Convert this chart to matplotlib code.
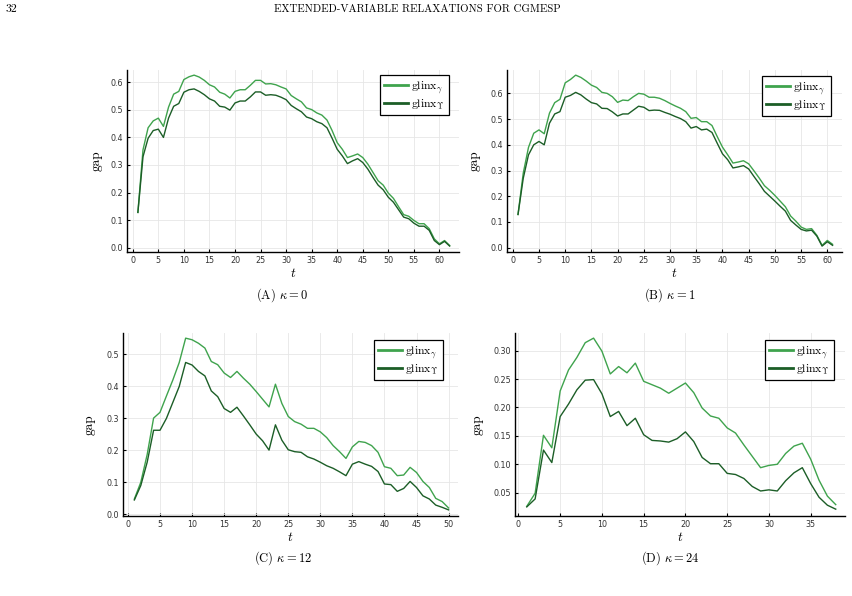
import matplotlib
matplotlib.use('Agg')
import matplotlib.pyplot as plt
from matplotlib.ticker import MultipleLocator, FormatStrFormatter
from matplotlib.lines import Line2D

plt.rcParams['mathtext.fontset'] = 'cm'
plt.rcParams['axes.unicode_minus'] = False

# ---------------- data ----------------
t_a = list(range(1, 63))
glinx_gamma_a = [0.128, 0.355, 0.435, 0.46, 0.47, 0.44, 0.51, 0.557, 0.567, 0.61,
                 0.62, 0.626, 0.619, 0.607, 0.591, 0.583, 0.564, 0.557, 0.543, 0.567,
                 0.573, 0.573, 0.589, 0.607, 0.607, 0.594, 0.595, 0.591, 0.583, 0.576,
                 0.552, 0.54, 0.529, 0.507, 0.501, 0.489, 0.481, 0.463, 0.425, 0.381,
                 0.357, 0.327, 0.333, 0.34, 0.327, 0.303, 0.273, 0.243, 0.227, 0.198,
                 0.179, 0.149, 0.12, 0.114, 0.099, 0.087, 0.087, 0.069, 0.032, 0.014,
                 0.026, 0.008]
glinx_upsilon_a = [0.128, 0.33, 0.397, 0.425, 0.43, 0.40, 0.47, 0.513, 0.523, 0.564,
                   0.573, 0.576, 0.567, 0.555, 0.54, 0.532, 0.513, 0.51, 0.499, 0.525,
                   0.532, 0.532, 0.547, 0.565, 0.565, 0.553, 0.555, 0.553, 0.546, 0.537,
                   0.516, 0.504, 0.493, 0.474, 0.468, 0.457, 0.45, 0.435, 0.397, 0.357,
                   0.333, 0.305, 0.315, 0.323, 0.309, 0.285, 0.255, 0.227, 0.21, 0.183,
                   0.165, 0.138, 0.111, 0.105, 0.089, 0.078, 0.078, 0.063, 0.026, 0.011,
                   0.023, 0.006]

t_b = list(range(1, 62))
glinx_gamma_b = [0.129, 0.29, 0.39, 0.445, 0.458, 0.443, 0.523, 0.564, 0.577, 0.641,
                 0.654, 0.671, 0.662, 0.648, 0.632, 0.623, 0.604, 0.60, 0.587, 0.565,
                 0.574, 0.572, 0.587, 0.60, 0.597, 0.585, 0.585, 0.581, 0.572, 0.561,
                 0.551, 0.542, 0.529, 0.503, 0.506, 0.49, 0.49, 0.475, 0.432, 0.391,
                 0.361, 0.329, 0.333, 0.338, 0.326, 0.299, 0.271, 0.241, 0.223, 0.203,
                 0.181, 0.159, 0.123, 0.103, 0.08, 0.071, 0.074, 0.048, 0.009, 0.028,
                 0.013]
glinx_upsilon_b = [0.129, 0.27, 0.361, 0.40, 0.413, 0.40, 0.484, 0.52, 0.529, 0.585,
                   0.592, 0.604, 0.594, 0.578, 0.564, 0.559, 0.542, 0.541, 0.528, 0.512,
                   0.52, 0.52, 0.535, 0.55, 0.546, 0.533, 0.535, 0.534, 0.526, 0.519,
                   0.51, 0.502, 0.49, 0.465, 0.471, 0.458, 0.461, 0.448, 0.406, 0.365,
                   0.342, 0.31, 0.314, 0.319, 0.306, 0.277, 0.249, 0.219, 0.2, 0.181,
                   0.161, 0.142, 0.106, 0.088, 0.071, 0.065, 0.068, 0.045, 0.006, 0.023,
                   0.009]

t_c = list(range(1, 51))
glinx_gamma_c = [0.048, 0.10, 0.187, 0.301, 0.319, 0.37, 0.42, 0.475, 0.551, 0.546,
                 0.535, 0.52, 0.478, 0.468, 0.442, 0.428, 0.447, 0.426, 0.407, 0.384,
                 0.36, 0.336, 0.407, 0.347, 0.306, 0.29, 0.282, 0.269, 0.269, 0.258,
                 0.24, 0.215, 0.196, 0.175, 0.211, 0.228, 0.225, 0.215, 0.194, 0.149,
                 0.144, 0.121, 0.123, 0.147, 0.131, 0.103, 0.084, 0.05, 0.04, 0.02]
glinx_upsilon_c = [0.045, 0.09, 0.163, 0.263, 0.263, 0.30, 0.35, 0.40, 0.475, 0.467,
                   0.447, 0.433, 0.386, 0.368, 0.331, 0.319, 0.335, 0.308, 0.28, 0.251,
                   0.23, 0.201, 0.28, 0.232, 0.202, 0.196, 0.194, 0.18, 0.173, 0.163,
                   0.152, 0.144, 0.133, 0.121, 0.157, 0.165, 0.157, 0.15, 0.134, 0.095,
                   0.093, 0.072, 0.081, 0.103, 0.084, 0.058, 0.048, 0.029, 0.022, 0.014]

t_d = list(range(1, 39))
glinx_gamma_d = [0.026, 0.049, 0.151, 0.129, 0.229, 0.266, 0.288, 0.314, 0.322, 0.299,
                 0.259, 0.272, 0.261, 0.278, 0.246, 0.24, 0.234, 0.225, 0.234, 0.243,
                 0.226, 0.199, 0.185, 0.181, 0.164, 0.155, 0.134, 0.114, 0.094, 0.098,
                 0.10, 0.119, 0.132, 0.137, 0.109, 0.072, 0.044, 0.029]
glinx_upsilon_d = [0.025, 0.039, 0.125, 0.103, 0.184, 0.206, 0.231, 0.248, 0.249, 0.224,
                   0.184, 0.193, 0.168, 0.181, 0.152, 0.142, 0.141, 0.139, 0.145, 0.157,
                   0.14, 0.112, 0.101, 0.101, 0.084, 0.082, 0.075, 0.061, 0.053, 0.055,
                   0.053, 0.071, 0.085, 0.094, 0.066, 0.042, 0.028, 0.021]

labels = [r'glinx$_\gamma$', r'glinx$_\Upsilon$']
captions = [r'(A) $\kappa = 0$', r'(B) $\kappa = 1$', r'(C) $\kappa = 12$', r'(D) $\kappa = 24$']
header_page = '32'
header_title = 'EXTENDED-VARIABLE RELAXATIONS FOR CGMESP'

# ---------------- layout ----------------
W, H = 852, 596
fig = plt.figure(figsize=(W / 100, H / 100), dpi=100)
SERIF = 'cmr10'
LIGHT = '#3fa34d'
DARK = '#1c5e27'


def fx(x):
    return x / W


def fy(y):
    return 1 - y / H


panels = [
    dict(t=t_a, g=glinx_gamma_a, u=glinx_upsilon_a, box=(127, 459, 70, 252),
         ystep=0.1, yfmt='%.1f', leg=(449, 75), ylab_x=103, cap=(282, 295)),
    dict(t=t_b, g=glinx_gamma_b, u=glinx_upsilon_b, box=(507, 842, 70, 252),
         ystep=0.1, yfmt='%.1f', leg=(831, 76), ylab_x=481, cap=(670, 295)),
    dict(t=t_c, g=glinx_gamma_c, u=glinx_upsilon_c, box=(123, 458, 333, 516),
         ystep=0.1, yfmt='%.1f', leg=(443, 340), ylab_x=96, cap=(283, 558)),
    dict(t=t_d, g=glinx_gamma_d, u=glinx_upsilon_d, box=(515, 845, 333, 516),
         ystep=0.05, yfmt='%.2f', leg=(834, 340), ylab_x=484, cap=(670, 558)),
]

for i, p in enumerate(panels):
    l, r, tp, bt = p['box']
    ax = fig.add_axes([fx(l), fy(bt), fx(r - l), (bt - tp) / H])
    ax.plot(p['t'], p['g'], color=LIGHT, lw=1.0)
    ax.plot(p['t'], p['u'], color=DARK, lw=1.0)
    tmin, tmax = min(p['t']), max(p['t'])
    vmin = min(min(p['g']), min(p['u']))
    vmax = max(max(p['g']), max(p['u']))
    dx = 0.03 * (tmax - tmin)
    dy = 0.03 * (vmax - vmin)
    ax.set_xlim(tmin - dx - 0.3, tmax + dx)
    ax.set_ylim(vmin - dy - 0.003, vmax + dy)
    ax.xaxis.set_major_locator(MultipleLocator(5))
    ax.yaxis.set_major_locator(MultipleLocator(p['ystep']))
    ax.yaxis.set_major_formatter(FormatStrFormatter(p['yfmt']))
    ax.grid(True, color='#e6e6e6', lw=0.6)
    ax.set_axisbelow(True)
    for s in ['top', 'right']:
        ax.spines[s].set_visible(False)
    for s in ['left', 'bottom']:
        ax.spines[s].set_linewidth(1.0)
        ax.spines[s].set_color('black')
    ax.tick_params(direction='in', length=2.5, width=0.8, labelsize=5.8,
                   labelcolor='#333333', pad=3)
    ax.set_xlabel(r'$t$', fontsize=9.5, labelpad=1)
    ax.set_ylabel('gap', family=SERIF, fontsize=9.5)
    ax.yaxis.set_label_coords((p['ylab_x'] - l) / (r - l), 0.5)
    handles = [Line2D([], [], color=LIGHT, lw=2), Line2D([], [], color=DARK, lw=2)]
    ax.legend(handles, labels, loc='upper right',
              bbox_to_anchor=(fx(p['leg'][0]), fy(p['leg'][1])),
              bbox_transform=fig.transFigure, borderaxespad=0,
              prop={'family': SERIF, 'size': 8.5}, frameon=True, fancybox=False,
              edgecolor='black', framealpha=1, borderpad=0.35, labelspacing=0.1,
              handlelength=2.0, handletextpad=0.3)
    ax.get_legend().get_frame().set_linewidth(0.9)
    fig.text(fx(p['cap'][0]), fy(p['cap'][1]), captions[i], family=SERIF,
             fontsize=9, ha='center', va='center')

fig.text(fx(6), fy(9), header_page, family=SERIF, fontsize=8.5, ha='left', va='center')
fig.text(fx(417), fy(9), header_title, family=SERIF, fontsize=7.8, ha='center', va='center')

fig.savefig('out.png', dpi=100, facecolor='white')
